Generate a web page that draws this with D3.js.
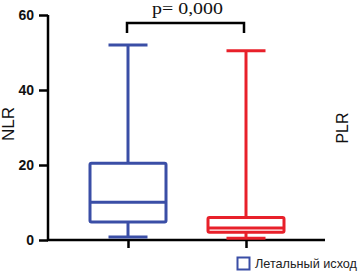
<!DOCTYPE html>
<html>
<head>
<meta charset="utf-8">
<script src="https://cdn.jsdelivr.net/npm/d3@7"></script>
<style>
  body { margin: 0; background: #fff; }
  svg { display: block; }
</style>
</head>
<body>
<div id="chart"></div>
<script>
// groups and box statistics
const groups = ["Выжившие", "Летальный исход"];
const mins    = [0.8, 0.5];
const q1s     = [4.8, 2.1];
const medians = [10.1, 3.2];
const q3s     = [20.5, 6.0];
const maxs    = [52, 50.5];
const colors  = ["#3a4ea6", "#e8202a"];
const yTicks  = [0, 20, 40, 60];
const pText   = "p= 0,000";
const legendLabel = "Летальный исход";

const width = 361, height = 272;
const svg = d3.select("#chart").append("svg")
    .attr("width", width)
    .attr("height", height);

const y = d3.scaleLinear().domain([0, 60]).range([240, 15]);
const x = d3.scalePoint().domain(groups).range([128, 246]);
const boxW = 76, capW = 39;

const boxes = groups.map((g, i) => ({
    g: g, min: mins[i], q1: q1s[i], med: medians[i], q3: q3s[i], max: maxs[i], color: colors[i]
}));

// y axis
const yAxis = d3.axisLeft(y).tickValues(yTicks).tickSize(9).tickPadding(5);
const gy = svg.append("g")
    .attr("transform", "translate(48,0)")
    .call(yAxis);
gy.select(".domain").attr("stroke", "#000").attr("stroke-width", 2.5).attr("d", "M0,240V15");
gy.selectAll(".tick line").attr("stroke", "#000").attr("stroke-width", 2.5);
gy.selectAll(".tick text")
    .attr("fill", "#111")
    .style("font-family", "Liberation Sans, Arial, sans-serif")
    .style("font-weight", "bold")
    .style("font-size", "14px");

// x axis
const gx = svg.append("g")
    .attr("transform", "translate(0,240)")
    .call(d3.axisBottom(x).tickSize(8).tickFormat(""));
gx.select(".domain").attr("stroke", "#000").attr("stroke-width", 2.5).attr("d", "M47,0H325");
gx.selectAll(".tick line").attr("stroke", "#000").attr("stroke-width", 2.5);

// boxes
const bx = svg.append("g").selectAll("g")
    .data(boxes)
    .join("g")
    .attr("stroke", d => d.color)
    .attr("stroke-width", 3)
    .attr("fill", "none");

bx.append("line")
    .attr("x1", d => x(d.g)).attr("x2", d => x(d.g))
    .attr("y1", d => y(d.max)).attr("y2", d => y(d.q3));
bx.append("line")
    .attr("x1", d => x(d.g)).attr("x2", d => x(d.g))
    .attr("y1", d => y(d.q1)).attr("y2", d => y(d.min));
bx.append("line")
    .attr("x1", d => x(d.g) - capW / 2).attr("x2", d => x(d.g) + capW / 2)
    .attr("y1", d => y(d.max)).attr("y2", d => y(d.max));
bx.append("line")
    .attr("x1", d => x(d.g) - capW / 2).attr("x2", d => x(d.g) + capW / 2)
    .attr("y1", d => y(d.min)).attr("y2", d => y(d.min));
bx.append("rect")
    .attr("x", d => x(d.g) - boxW / 2)
    .attr("width", boxW)
    .attr("y", d => y(d.q3))
    .attr("height", d => y(d.q1) - y(d.q3))
    .attr("rx", 1.5);
bx.append("line")
    .attr("x1", d => x(d.g) - boxW / 2).attr("x2", d => x(d.g) + boxW / 2)
    .attr("y1", d => y(d.med)).attr("y2", d => y(d.med));

// significance bracket
svg.append("path")
    .attr("d", `M${x(groups[0]) - 1},33V23H${x(groups[1]) - 2}V33`)
    .attr("fill", "none")
    .attr("stroke", "#000")
    .attr("stroke-width", 2.5);
svg.append("text")
    .attr("x", 152).attr("y", 14)
    .attr("textLength", 71)
    .attr("lengthAdjust", "spacingAndGlyphs")
    .style("font-family", "Liberation Serif, Times New Roman, serif")
    .style("font-size", "16px")
    .attr("fill", "#111")
    .text(pText);

// axis titles
svg.append("text")
    .attr("transform", "translate(14,124) rotate(-90)")
    .attr("text-anchor", "middle")
    .style("font-family", "Liberation Sans, Arial, sans-serif")
    .style("font-size", "17px")
    .attr("fill", "#111")
    .text("NLR");
svg.append("text")
    .attr("transform", "translate(348,128) rotate(-90)")
    .attr("text-anchor", "middle")
    .style("font-family", "Liberation Sans, Arial, sans-serif")
    .style("font-size", "16px")
    .attr("fill", "#111")
    .text("PLR");

// legend
svg.append("rect")
    .attr("x", 237.5).attr("y", 257.5)
    .attr("width", 12).attr("height", 12)
    .attr("fill", "#fff")
    .attr("stroke", colors[0])
    .attr("stroke-width", 2);
svg.append("text")
    .attr("x", 255).attr("y", 267.5)
    .attr("textLength", 102)
    .attr("lengthAdjust", "spacingAndGlyphs")
    .style("font-family", "Liberation Sans, Arial, sans-serif")
    .style("font-size", "13px")
    .attr("fill", "#222")
    .text(legendLabel);
</script>
</body>
</html>
